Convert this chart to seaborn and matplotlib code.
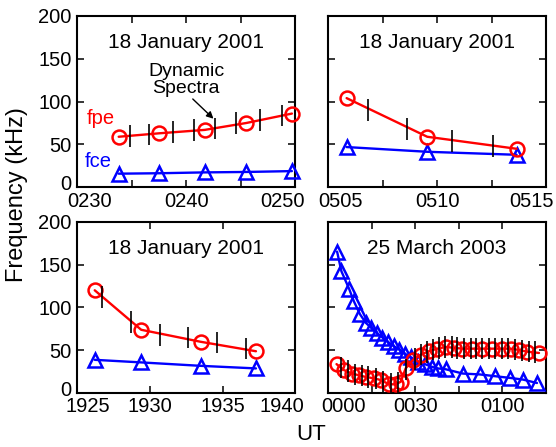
import numpy as np
import matplotlib
matplotlib.use("Agg")
import matplotlib.pyplot as plt
import matplotlib.transforms as mtransforms
import seaborn as sns

# ---------------- data (times in minutes after the hour shown) ----------------
# Panel A: 18 January 2001, 0230-0250 UT (minutes after 0200)
a_t = [33.8, 37.5, 41.7, 45.5, 49.7]
a_fpe = [59, 63, 67, 75, 86]
a_fce = [16, 16.5, 17.5, 18, 19]
a_bar_t = [34.8, 36.6, 38.8, 40.7, 42.6, 44.6, 46.8, 48.8]
a_bar_c = [60, 61.5, 64.5, 67, 68.5, 75, 78.5, 84]

# Panel B: 18 January 2001, 0505-0515 UT (minutes after 0500)
b_t = [5.85, 9.55, 13.65]
b_fpe = [104, 59, 45]
b_fce = [47, 41.5, 38]
b_bar_t = [6.83, 8.62, 10.69, 12.57]
b_bar_c = [90, 68, 54, 48]

# Panel C: 18 January 2001, 1925-1940 UT (minutes after 1900)
c_t = [26.2, 29.4, 33.5, 37.3]
c_fpe = [120, 74, 60, 49]
c_fce = [39, 36, 32, 29]
c_bar_t = [26.7, 28.7, 30.7, 32.6, 34.6, 36.6]
c_bar_c = [112, 83, 68, 65, 59, 52]

# Panel D: 25 March 2003, 0000-0115 UT (minutes after 0000)
d_fce_t = [3.1, 4.6, 7.2, 8.9, 11.0, 13.0, 14.9, 16.8, 18.7, 20.6, 22.6, 24.5,
           26.5, 28.5, 31.0, 33.3, 35.6, 37.8, 40.5, 46.4, 52.2, 57.3, 62.5,
           67.1, 71.9]
d_fce = [165, 142, 122, 107, 92, 82, 76, 70, 65, 60, 55, 51, 46, 42, 37, 34,
         31, 29, 28, 23, 22, 20, 18, 16, 12]
d_fpe_t = [2.9, 5.5, 8.2, 10.7, 13.0, 15.8, 18.1, 21.0, 23.3, 25.0, 26.7, 29.2,
           31.9, 34.7, 37.6, 40.5, 43.3, 46.2, 49.7, 53.1, 56.5, 60.0, 62.8,
           65.7, 68.6, 72.6]
d_fpe = [34, 27, 23, 21, 19, 17.5, 15.5, 10.5, 10.5, 13.5, 29, 39, 45, 49, 52,
         54, 53, 52, 52, 52, 52, 52, 52, 50.5, 48.5, 47]
d_bar_t = [4.4, 7.0, 9.3, 11.6, 13.9, 16.4, 18.9, 21.6, 23.9, 26.7, 29.9, 31.9,
           34.2, 36.1, 38.2, 40.2, 42.6, 44.5, 46.8, 49.1, 51.0, 53.1, 55.4,
           57.4, 59.8, 62.0, 64.3, 66.9, 69.1, 71.2]
d_bar_c = [30, 26, 22, 21, 19, 17, 14, 11, 12, 28, 40, 45, 48, 51, 53, 54, 54,
           53, 52, 52, 52, 52, 52, 52, 52, 52, 51, 50, 49, 48]

bar_half = 12.5  # half-height of dynamic-spectra bars (kHz)

titles = ["18 January 2001", "18 January 2001", "18 January 2001", "25 March 2003"]
a_ticks = [30, 35, 40, 45, 50]
a_labels = ["0230", "", "0240", "", "0250"]
b_ticks = [5, 7.5, 10, 12.5, 15]
b_labels = ["0505", "", "0510", "", "0515"]
c_ticks = [25, 30, 35, 40]
c_labels = ["1925", "1930", "1935", "1940"]
d_ticks = [0, 15, 30, 45, 60, 75]
d_labels = ["0000", "", "0030", "", "0100", ""]
y_ticks = [0, 50, 100, 150, 200]

# ---------------- style ----------------
sns.set_style("ticks", {"axes.edgecolor": "black", "xtick.color": "black",
                        "ytick.color": "black", "text.color": "black",
                        "axes.labelcolor": "black"})
plt.rcParams['font.family'] = ['Liberation Sans', 'DejaVu Sans']

fig, axes = plt.subplots(2, 2, figsize=(5.56, 4.47), dpi=100)
fig.subplots_adjust(left=0.139, right=0.982, bottom=0.1201, top=0.9649,
                    wspace=0.151, hspace=0.199)


def shift_label(lab, dx, dy):
    lab.set_transform(lab.get_transform() +
                      mtransforms.ScaledTranslation(dx / 100.0, dy / 100.0,
                                                    fig.dpi_scale_trans))


def panel(ax, t_fpe, fpe, t_fce, fce, bt, bc, title, xlim, ticks, labels,
          show_y, shifts):
    sns.lineplot(x=t_fce, y=fce, ax=ax, color="blue", lw=1.7, marker="^",
                 ms=10.5, mfc="none", mec="blue", mew=1.8, clip_on=False,
                 legend=False, zorder=3)
    sns.lineplot(x=t_fpe, y=fpe, ax=ax, color="red", lw=1.7, marker="o",
                 ms=10, mfc="none", mec="red", mew=1.8, clip_on=False,
                 legend=False, zorder=4)
    bc = np.asarray(bc, dtype=float)
    ax.vlines(bt, bc - bar_half, bc + bar_half, color="black", lw=1.2, zorder=5)
    ax.set_xlim(*xlim)
    ax.set_ylim(0, 200)
    ax.set_xticks(ticks)
    ax.set_xticklabels(labels)
    ax.set_yticks(y_ticks)
    ax.set_xlabel("")
    ax.set_ylabel("")
    for s in ax.spines.values():
        s.set_linewidth(1.5)
        s.set_color("black")
    ax.tick_params(axis="both", direction="in", length=5, width=1.1,
                   top=True, right=True, labelsize=14.5)
    ax.tick_params(axis="x", pad=3)
    ax.tick_params(axis="y", pad=4, labelleft=show_y)
    ax.text(0.5, 0.81, title, transform=ax.transAxes, ha="center",
            va="baseline", fontsize=15)
    xt = ax.xaxis.get_major_ticks()
    for idx, dx in shifts:
        shift_label(xt[idx].label1, dx, 0)
    if show_y:
        yt = ax.yaxis.get_major_ticks()
        shift_label(yt[0].label1, 0, 5)


panel(axes[0, 0], a_t, a_fpe, a_t, a_fce, a_bar_t, a_bar_c, titles[0],
      (30, 50), a_ticks, a_labels, True, [(0, 12), (4, -13)])
panel(axes[0, 1], b_t, b_fpe, b_t, b_fce, b_bar_t, b_bar_c, titles[1],
      (5, 15), b_ticks, b_labels, False, [(0, 12), (4, -14)])
panel(axes[1, 0], c_t, c_fpe, c_t, c_fce, c_bar_t, c_bar_c, titles[2],
      (25, 40), c_ticks, c_labels, True, [(0, 11), (3, -13)])
panel(axes[1, 1], d_fpe_t, d_fpe, d_fce_t, d_fce, d_bar_t, d_bar_c, titles[3],
      (0, 75), d_ticks, d_labels, False, [(0, 15)])

# annotations in the first panel
ax0 = axes[0, 0]
ax0.text(32.2, 74, "fpe", color="red", ha="center", va="baseline", fontsize=14.5)
ax0.text(31.9, 23.5, "fce", color="blue", ha="center", va="baseline", fontsize=14.5)
ax0.text(40.0, 125, "Dynamic\nSpectra", ha="center", va="center",
         fontsize=14, linespacing=0.95)
ax0.annotate("", xy=(42.5, 80), xytext=(40.6, 103),
             arrowprops=dict(arrowstyle="-|>", color="black", lw=1.0,
                             mutation_scale=10, shrinkA=0, shrinkB=0))

fig.text(17 / 556, 1 - 195 / 447, "Frequency (kHz)", rotation=90,
         ha="center", va="center", fontsize=17)
fig.text(311 / 556, 1 - 435 / 447, "UT", ha="center", va="center", fontsize=16)

fig.savefig("out.png", dpi=100)
